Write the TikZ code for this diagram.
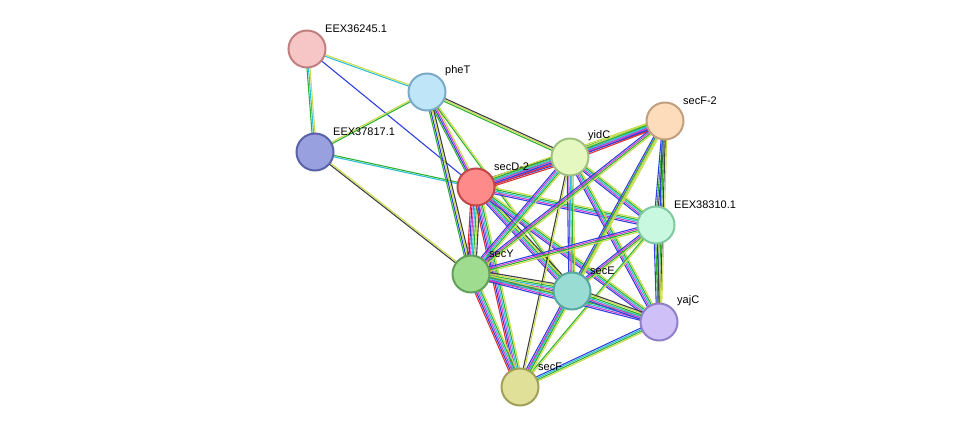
\documentclass[tikz,border=0pt]{standalone}
\usepackage{fontspec}
\setmainfont{Liberation Sans}
\usetikzlibrary{calc}
\definecolor{cyg}{HTML}{C8DC50}
\definecolor{cgr}{HTML}{30B030}
\definecolor{cbl}{HTML}{3040E0}
\definecolor{ccy}{HTML}{30C0D8}
\definecolor{cmg}{HTML}{D040D0}
\definecolor{cbk}{HTML}{404040}
\definecolor{crd}{HTML}{E03030}
\newcommand\edge[4]{% a b n colors
  \foreach \c [count=\i] in {#4}{%
    \pgfmathsetmacro\off{(\i-(#3+1)/2)*1.5}
    \draw[\c, line width=1.1pt] ($(#1)!\off pt!90:(#2)$) -- ($(#2)!\off pt!-90:(#1)$);}}
\tikzset{prot/.style={circle, minimum size=37pt, line width=2pt, inner sep=0pt},
  lab/.style={anchor=south west, font=\fontsize{11}{12}\selectfont, inner sep=0pt}}
\begin{document}
\begin{tikzpicture}[x=1pt,y=-1pt]
\useasboundingbox (0,0) rectangle (976,433);
\coordinate (A) at (307,49);
\coordinate (P) at (427,92);
\coordinate (B) at (315,152);
\coordinate (D) at (476,187);
\coordinate (Y) at (570,157);
\coordinate (F2) at (665,121);
\coordinate (E3) at (656,225);
\coordinate (S) at (471,274);
\coordinate (E) at (572,291);
\coordinate (J) at (659,322);
\coordinate (F) at (520,387);
\edge{A}{B}{3}{cgr,ccy,cyg}
\edge{A}{P}{2}{ccy,cyg}
\edge{A}{D}{1}{cbl}
\edge{B}{P}{2}{cgr,cyg}
\edge{B}{D}{2}{ccy,cgr}
\edge{B}{S}{2}{cbk,cyg}
\edge{P}{D}{4}{cgr,cbl,cmg,cyg}
\edge{P}{Y}{3}{cgr,cyg,cbk}
\edge{P}{S}{4}{cgr,cbl,cyg,cbk}
\edge{P}{E}{2}{cgr,cyg}
\edge{D}{Y}{7}{crd,cbl,cmg,ccy,cgr,cyg,cbk}
\edge{D}{F2}{6}{crd,cbl,cmg,ccy,cgr,cyg}
\edge{D}{E3}{5}{cbl,cmg,ccy,cgr,cyg}
\edge{D}{S}{7}{crd,cbl,cmg,ccy,cgr,cyg,cbk}
\edge{D}{E}{6}{cbl,cmg,ccy,cgr,cyg,cbk}
\edge{D}{J}{5}{cbl,cmg,ccy,cgr,cyg}
\edge{D}{F}{6}{crd,cbl,cmg,ccy,cgr,cyg}
\edge{Y}{F2}{6}{crd,cbl,cmg,ccy,cgr,cyg}
\edge{Y}{E3}{5}{cbl,cmg,ccy,cgr,cyg}
\edge{Y}{S}{5}{cbl,cmg,ccy,cgr,cyg}
\edge{Y}{E}{5}{cbl,cmg,ccy,cgr,cyg}
\edge{Y}{J}{5}{cbl,cmg,ccy,cgr,cyg}
\edge{Y}{F}{2}{cbk,cyg}
\edge{F2}{E3}{4}{cbl,cgr,cbk,cyg}
\edge{F2}{S}{4}{cbl,cmg,cgr,cyg}
\edge{F2}{E}{4}{cbl,cmg,cgr,cyg}
\edge{F2}{J}{4}{cbl,cgr,cbk,cyg}
\edge{F2}{F}{2}{cgr,cyg}
\edge{E3}{S}{4}{cbl,cmg,cgr,cyg}
\edge{E3}{E}{4}{cbl,cmg,cgr,cyg}
\edge{E3}{J}{4}{cbl,cgr,cbk,cyg}
\edge{E3}{F}{2}{cgr,cyg}
\edge{S}{E}{7}{crd,cbl,cmg,ccy,cgr,cyg,cbk}
\edge{S}{J}{5}{cbl,cmg,ccy,cgr,cyg}
\edge{S}{F}{6}{crd,cbl,cmg,ccy,cgr,cyg}
\edge{E}{J}{6}{cbl,cmg,ccy,cgr,cyg,cbk}
\edge{E}{F}{5}{cbl,cmg,ccy,cgr,cyg}
\edge{J}{F}{4}{cbl,ccy,cgr,cyg}
\node[prot, fill={rgb,255:red,246;green,198;blue,198}, draw={rgb,255:red,192;green,128;blue,128}] (nA) at (A) {};
\node[prot, fill={rgb,255:red,190;green,230;blue,248}, draw={rgb,255:red,122;green,170;blue,200}] (nP) at (P) {};
\node[prot, fill={rgb,255:red,152;green,160;blue,224}, draw={rgb,255:red,90;green,98;blue,168}] (nB) at (B) {};
\node[prot, fill={rgb,255:red,255;green,138;blue,138}, draw={rgb,255:red,192;green,72;blue,72}] (nD) at (D) {};
\node[prot, fill={rgb,255:red,228;green,248;blue,192}, draw={rgb,255:red,160;green,192;blue,128}] (nY) at (Y) {};
\node[prot, fill={rgb,255:red,253;green,220;blue,188}, draw={rgb,255:red,192;green,160;blue,128}] (nF2) at (F2) {};
\node[prot, fill={rgb,255:red,200;green,248;blue,224}, draw={rgb,255:red,128;green,200;blue,160}] (nE3) at (E3) {};
\node[prot, fill={rgb,255:red,160;green,220;blue,144}, draw={rgb,255:red,96;green,160;blue,88}] (nS) at (S) {};
\node[prot, fill={rgb,255:red,152;green,220;blue,212}, draw={rgb,255:red,88;green,168;blue,160}] (nE) at (E) {};
\node[prot, fill={rgb,255:red,208;green,192;blue,248}, draw={rgb,255:red,144;green,128;blue,200}] (nJ) at (J) {};
\node[prot, fill={rgb,255:red,224;green,224;blue,152}, draw={rgb,255:red,160;green,160;blue,88}] (nF) at (F) {};
\node[lab] (lA) at (325,33) {EEX36245.1};
\node[lab] (lP) at (445,76) {pheT};
\node[lab] (lB) at (333,136) {EEX37817.1};
\node[lab] (lD) at (494,171) {secD-2};
\node[lab] (lY) at (588,141) {yidC};
\node[lab] (lF2) at (683,105) {secF-2};
\node[lab] (lE3) at (674,209) {EEX38310.1};
\node[lab] (lS) at (489,258) {secY};
\node[lab] (lE) at (590,275) {secE};
\node[lab] (lJ) at (677,306) {yajC};
\node[lab] (lF) at (538,371) {secF};
\end{tikzpicture}
\end{document}
